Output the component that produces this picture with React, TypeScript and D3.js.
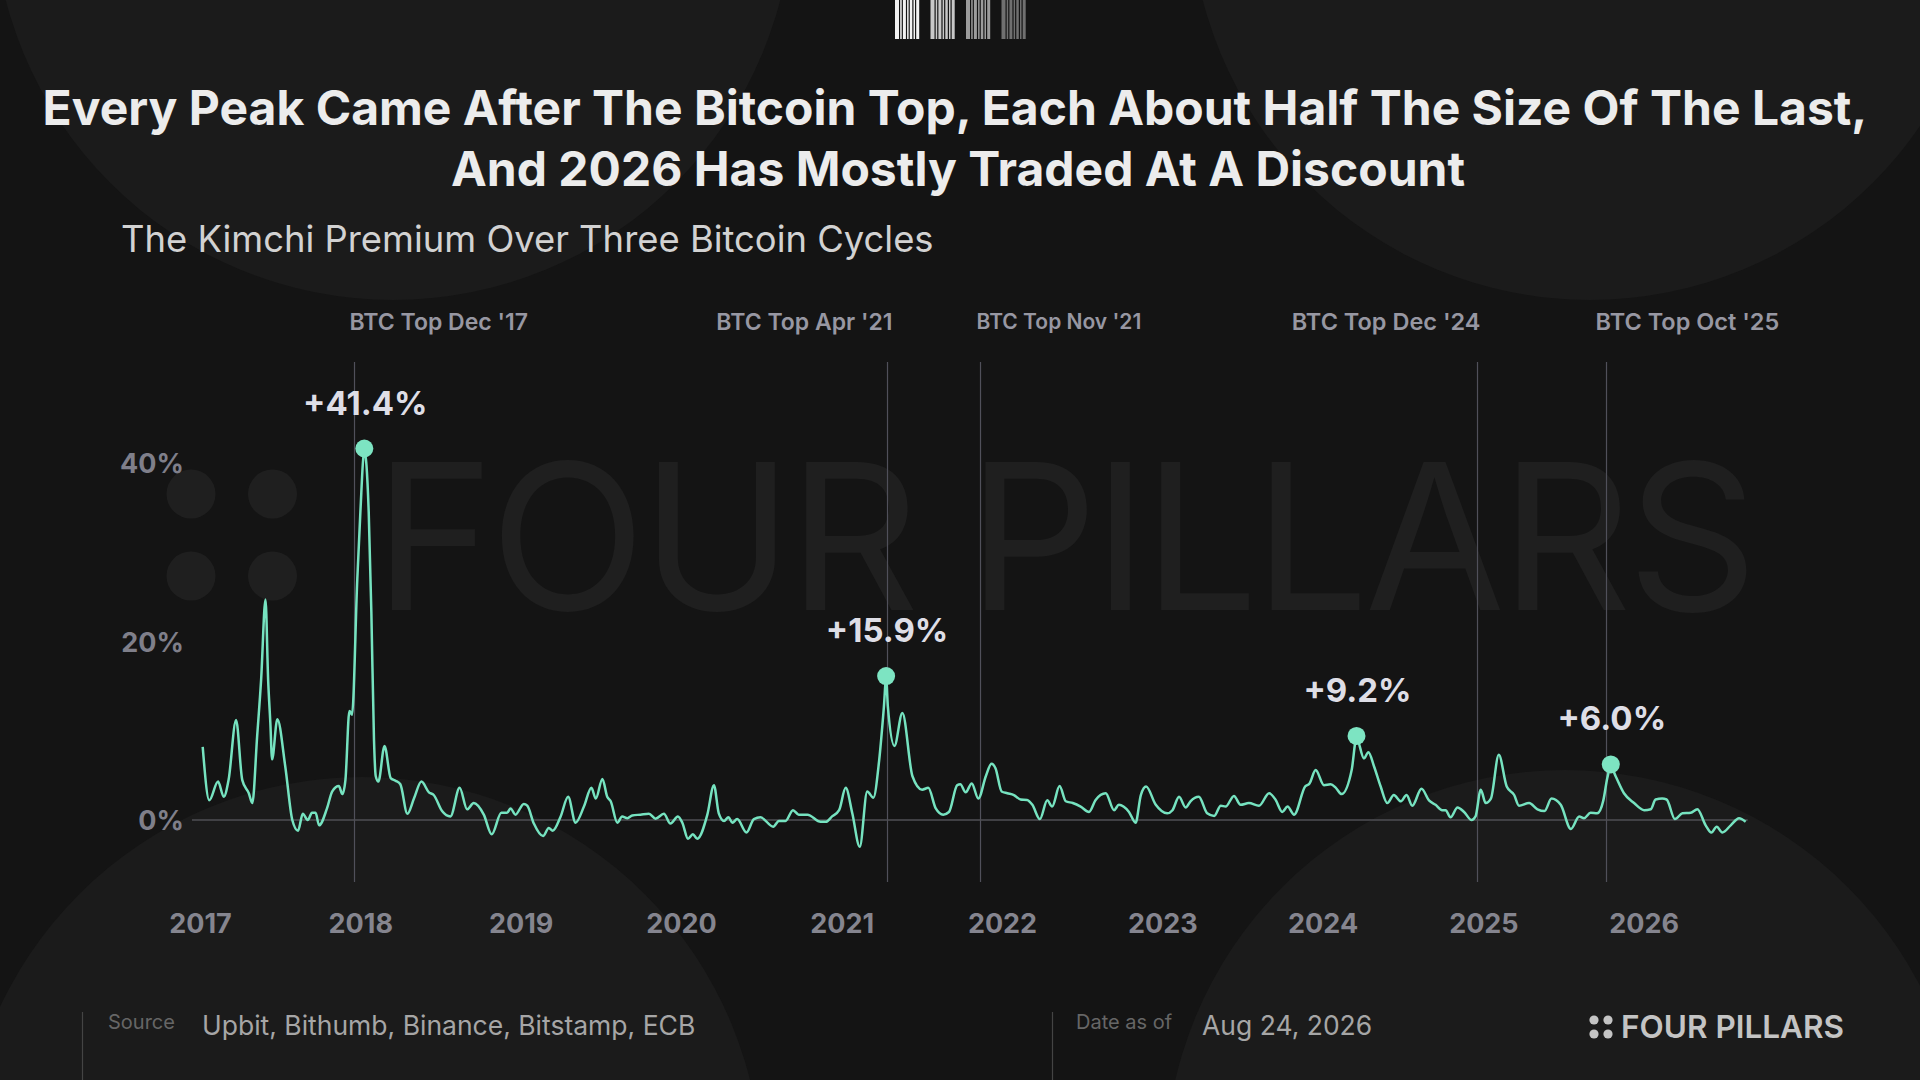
import * as d3 from "d3";

// days after 2017-01-01 and the premium (%)
const dayOffsets = [
  5, 20, 40, 53, 64, 81, 95, 110, 118, 129, 138, 148, 154, 159, 163, 175, 193, 209, 222, 233,
  244, 254, 262, 270, 288, 300, 315, 323, 330, 339, 345, 357, 364, 373, 383, 389, 395, 399, 405, 419,
  433, 444, 455, 471, 486, 503, 520, 531, 550, 569, 590, 607, 622, 645, 663, 685, 698, 706, 717, 736,
  744, 759, 780, 793, 802, 820, 837, 854, 873, 890, 900, 915, 926, 934, 949, 960, 972, 983, 1002, 1021,
  1036, 1055, 1070, 1087, 1097, 1110, 1121, 1131, 1154, 1169, 1180, 1192, 1202, 1211, 1222, 1243, 1260, 1275, 1304, 1317,
  1332, 1349, 1362, 1382, 1412, 1424, 1438, 1454, 1469, 1484, 1501, 1518, 1532, 1545, 1556, 1561, 1565, 1580, 1598, 1621,
  1643, 1657, 1674, 1691, 1704, 1723, 1730, 1742, 1756, 1771, 1788, 1801, 1810, 1824, 1837, 1852, 1867, 1882, 1894, 1911,
  1928, 1939, 1956, 1970, 1986, 2004, 2023, 2038, 2061, 2080, 2091, 2114, 2129, 2141, 2153, 2175, 2201, 2213, 2228, 2243,
  2254, 2273, 2292, 2308, 2323, 2334, 2353, 2368, 2387, 2410, 2433, 2448, 2463, 2475, 2490, 2515, 2525, 2539, 2558, 2573,
  2585, 2598, 2621, 2632, 2649, 2659, 2672, 2687, 2702, 2717, 2733, 2746, 2759, 2780, 2797, 2812, 2827, 2835, 2846, 2862,
  2877, 2894, 2903, 2915, 2926, 2938, 2956, 2974, 2991, 3002, 3025, 3044, 3060, 3076, 3097, 3120, 3139, 3150, 3165, 3180,
  3194, 3203, 3211, 3222, 3241, 3264, 3287, 3302, 3313, 3328, 3338, 3357, 3374, 3393, 3408, 3427, 3440, 3452, 3465, 3484,
  3503, 3518,
];
const premium = [
  8.2, 2.2, 4.3, 2.6, 4.5, 11.2, 4.5, 3.0, 1.9, 9.4, 15.7, 24.7, 15.7, 10.9, 6.8, 11.3, 6.0, 0.0, -1.2, 0.7,
  0.0, 0.8, 0.8, -0.6, 1.3, 3.2, 3.8, 2.9, 4.5, 12.2, 11.8, 27.0, 34.5, 41.4, 34.5, 23.3, 9.0, 4.9, 4.3, 8.3,
  4.7, 4.4, 4.0, 0.7, 2.4, 4.3, 3.1, 2.8, 1.0, 0.4, 3.6, 1.2, 1.9, 0.6, -1.6, 0.8, 0.8, 1.3, 0.6, 1.8,
  1.6, -0.4, -1.8, -0.9, -1.2, 0.4, 2.6, -0.3, 1.5, 3.6, 2.4, 4.6, 2.6, 2.1, -0.3, 0.4, 0.2, 0.5, 0.6, 0.7,
  0.15, 0.7, -0.4, 0.4, -0.3, -2.1, -1.6, -2.1, 0.6, 3.9, 0.75, -0.1, 0.3, -0.3, 0.1, -1.4, 0.1, 0.3, -0.75, -0.1,
  -0.1, 1.1, 0.6, 0.6, -0.2, -0.2, 0.4, 1.1, 3.6, 0.75, -3.0, 3.2, 2.5, 6.6, 12.7, 15.9, 12.7, 8.3, 12.0, 4.9,
  3.4, 3.6, 1.3, 0.6, 0.9, 3.9, 4.0, 3.1, 4.1, 2.4, 4.9, 6.3, 5.8, 3.2, 3.0, 2.8, 2.3, 2.25, 1.7, 0.1,
  2.2, 1.5, 3.8, 2.1, 1.9, 1.5, 0.9, 2.25, 3.0, 1.1, 1.7, 0.9, -0.3, 2.8, 3.75, 1.7, 0.75, 1.1, 2.6, 1.4,
  2.1, 2.6, 0.75, 0.45, 1.6, 1.5, 2.7, 1.7, 1.9, 1.6, 3.0, 2.25, 0.9, 1.5, 0.6, 3.75, 4.1, 5.6, 3.9, 4.0,
  3.6, 2.9, 5.6, 9.2, 6.9, 7.6, 6.0, 3.75, 1.9, 2.8, 2.1, 2.8, 1.6, 3.5, 2.2, 1.7, 1.1, 1.1, 0.3, 1.4,
  0.9, 0.0, 0.4, 3.4, 1.9, 2.4, 7.3, 3.75, 2.8, 1.6, 1.9, 1.2, 1.0, 2.4, 1.7, -1.0, 0.4, 0.2, 0.8, 0.75,
  2.2, 4.7, 6.0, 4.9, 3.0, 1.9, 1.1, 1.2, 2.3, 2.4, 2.3, 0.1, 0.75, 0.8, 1.2, -0.6, -1.4, -0.75, -1.4, -0.6,
  0.2, -0.2,
];

const yearTicks = [2017, 2018, 2019, 2020, 2021, 2022, 2023, 2024, 2025, 2026];
const yTicks = [0, 20, 40];

const btcTopDates = ["2017-12-17", "2021-04-14", "2021-11-10", "2024-12-17", "2025-10-06"];
const btcTopLabels = ["BTC Top Dec '17", "BTC Top Apr '21", "BTC Top Nov '21", "BTC Top Dec '24", "BTC Top Oct '25"];
const btcLabelAnchor = ["start", "end", "start", "end", "start"];

// windows in which the cycle peaks are marked
const peakWindows = [
  ["2017-11-01", "2018-03-01"],
  ["2021-03-01", "2021-06-01"],
  ["2024-01-01", "2024-06-01"],
  ["2025-08-01", "2025-12-31"],
];

const parse = d3.timeParse("%Y-%m-%d");
const start = new Date(2017, 0, 1);

export default function App() {
  const W = 1920;
  const H = 1080;
  const font = "Inter, 'Noto Sans', sans-serif";

  const data = dayOffsets.map((d, i) => ({ date: d3.timeDay.offset(start, d), v: premium[i] }));

  const x = d3
    .scaleTime()
    .domain([new Date(2017, 0, 1), new Date(2027, 0, 1)])
    .range([200.5, 1804.5]);
  const y = d3.scaleLinear().domain([0, 40]).range([820, 463]);

  const line = d3
    .line<{ date: Date; v: number }>()
    .x((d) => x(d.date))
    .y((d) => y(d.v))
    .curve(d3.curveMonotoneX);

  const peaks = peakWindows.map(([a, b]) => {
    const lo = parse(a)!;
    const hi = parse(b)!;
    return d3.greatest(
      data.filter((d) => d.date >= lo && d.date <= hi),
      (d) => d.v
    )!;
  });

  const last = data[data.length - 1];

  // label nudges next to the BTC top lines
  const labelDx = [-5, 5, -4, 3, -11];
  const labelSize = [23, 23, 21, 23.5, 23.5];

  // barcode mark at the top
  const stripeW = [4, 1.5, 3, 1.5, 2.5, 1.5, 3];
  const stripeColors = ["#f2f2f2", "#c8c8c8", "#9c9c9c", "#707070"];

  return (
    <svg
      width={W}
      height={H}
      style={{ position: "absolute", left: 0, top: 0, display: "block" }}
      fontFamily={font}
    >
      <rect width={W} height={H} fill="#141414" />
      {/* background discs */}
      <circle cx={393} cy={-100} r={400} fill="#1b1b1b" />
      <circle cx={1590} cy={-100} r={400} fill="#1b1b1b" />
      <circle cx={362} cy={1177} r={400} fill="#1b1b1b" />
      <circle cx={1565} cy={1170} r={400} fill="#1b1b1b" />

      {/* top barcode */}
      {stripeColors.map((c, g) => {
        let off = 0;
        return (
          <g key={g} transform={`translate(${895 + g * 35.5},0)`}>
            {stripeW.map((w, k) => {
              const r = <rect key={k} x={off} y={0} width={w} height={39} fill={c} />;
              off += w + 1.2;
              return r;
            })}
          </g>
        );
      })}

      {/* watermark */}
      <g fill="#1f1f1f">
        {[0, 1].map((i) =>
          [0, 1].map((j) => (
            <circle key={`${i}${j}`} cx={191 + i * 81.5} cy={494 + j * 82} r={24.5} />
          ))
        )}
        <text x={374} y={610} fontSize={204} fontWeight={400} textLength={1384} lengthAdjust="spacing">
          FOUR PILLARS
        </text>
      </g>

      {/* titles */}
      <text x={955} y={125} textAnchor="middle" fontSize={48} fontWeight={700} fill="#ececec">
        Every Peak Came After The Bitcoin Top, Each About Half The Size Of The Last,
      </text>
      <text x={958} y={186} textAnchor="middle" fontSize={48} fontWeight={700} fill="#ececec">
        And 2026 Has Mostly Traded At A Discount
      </text>
      <text x={121} y={252} fontSize={36.4} fontWeight={400} fill="#d2d2d2">
        The Kimchi Premium Over Three Bitcoin Cycles
      </text>

      {/* BTC top markers */}
      {btcTopDates.map((d, i) => {
        const xp = Math.round(x(parse(d)!)) + 0.5;
        return (
          <g key={d}>
            <line x1={xp} x2={xp} y1={362} y2={882} stroke="#50505a" strokeWidth={1.2} />
            <text
              x={xp + labelDx[i]}
              y={i === 2 ? 329 : 330}
              textAnchor={btcLabelAnchor[i]}
              fontSize={labelSize[i]}
              fontWeight={600}
              fill="#9797a2"
            >
              {btcTopLabels[i]}
            </text>
          </g>
        );
      })}

      {/* zero line */}
      <line x1={192} x2={x(last.date) + 2} y1={y(0)} y2={y(0)} stroke="#4f4f55" strokeWidth={1.6} />

      {/* y ticks */}
      {yTicks.map((t) => (
        <text key={t} x={184} y={y(t) + 10} textAnchor="end" fontSize={27} fontWeight={700} fill="#7f7f8a">
          {t}%
        </text>
      ))}

      {/* year ticks */}
      {yearTicks.map((yr) => (
        <text
          key={yr}
          x={x(new Date(yr, 0, 1))}
          y={933}
          textAnchor="middle"
          fontSize={27}
          fontWeight={700}
          fill="#85858f"
        >
          {yr}
        </text>
      ))}

      {/* series */}
      <path d={line(data)!} fill="none" stroke="#76e3c0" strokeWidth={2.5} strokeLinejoin="round" />

      {/* peaks */}
      {peaks.map((p) => (
        <g key={p.date.toISOString()}>
          <circle cx={x(p.date)} cy={y(p.v) - 2} r={9} fill="#7de4c2" />
          <text
            x={x(p.date) + 1}
            y={y(p.v) - 36}
            textAnchor="middle"
            fontSize={33}
            fontWeight={700}
            fill="#dedee6"
          >
            +{p.v.toFixed(1)}%
          </text>
        </g>
      ))}

      {/* footer */}
      <line x1={82.5} x2={82.5} y1={1012} y2={1080} stroke="#444" strokeWidth={1.2} />
      <line x1={1052.5} x2={1052.5} y1={1012} y2={1080} stroke="#444" strokeWidth={1.2} />
      <text x={108} y={1029} fontSize={20} fill="#666">
        Source
      </text>
      <text x={202} y={1035} fontSize={26.5} fill="#a6a6a6">
        Upbit, Bithumb, Binance, Bitstamp, ECB
      </text>
      <text x={1076} y={1029} fontSize={20} fill="#666">
        Date as of
      </text>
      <text x={1202} y={1035} fontSize={26.5} fill="#a6a6a6">
        Aug 24, 2026
      </text>
      <g fill="#c4c4c4">
        {[0, 1].map((i) =>
          [0, 1].map((j) => (
            <circle key={`f${i}${j}`} cx={1594 + i * 14} cy={1020 + j * 14} r={4.6} />
          ))
        )}
        <text x={1621} y={1038} fontSize={31.5} fontWeight={600}>
          FOUR PILLARS
        </text>
      </g>
    </svg>
  );
}
